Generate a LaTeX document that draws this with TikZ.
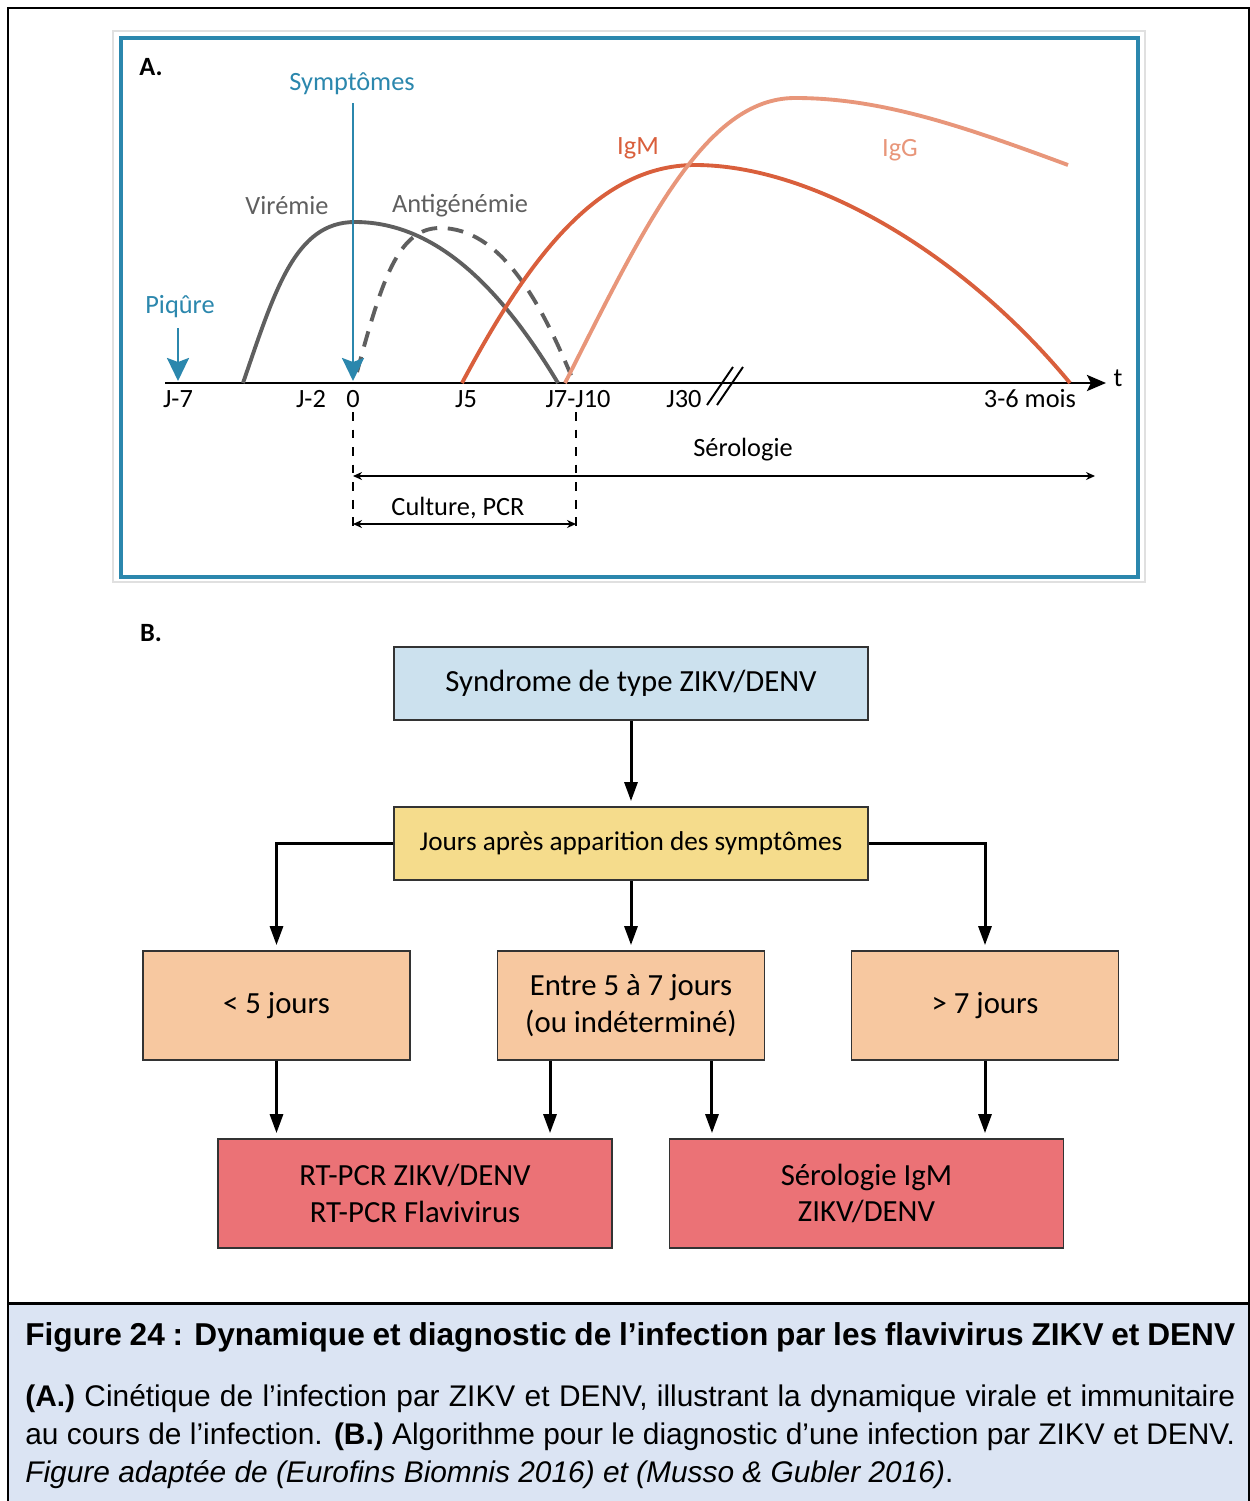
\documentclass[tikz,border=0pt]{standalone}
\usepackage{fontspec}
\setmainfont{Carlito}
\newfontfamily\legende{Liberation Sans}
\usetikzlibrary{arrows.meta}
\definecolor{bleu}{RGB}{43,135,173}
\definecolor{gris}{RGB}{95,95,95}
\definecolor{igm}{RGB}{217,95,60}
\definecolor{igg}{RGB}{232,150,122}
\definecolor{fondbleu}{RGB}{204,225,238}
\definecolor{fondjaune}{RGB}{245,220,140}
\definecolor{fondpeche}{RGB}{247,200,160}
\definecolor{fondrouge}{RGB}{235,114,118}
\definecolor{fondlegende}{RGB}{219,228,243}
\begin{document}
\begin{tikzpicture}[x=0.02cm,y=-0.02cm,
    etiq/.style={font=\fontsize{15}{17}\selectfont},
    boite/.style={draw=black!80, line width=1pt, align=center,
        font=\fontsize{17.5}{21}\selectfont},
    fleche/.style={line width=1.7pt, shorten >=0.1cm,
        -{Triangle[length=0.38cm,width=0.26cm]}}]
    \useasboundingbox (0,0) rectangle (1250,1501);

    % Cadre general et legende
    \fill[fondlegende] (8,1303) rectangle (1249,1501);
    \draw[line width=0.8pt] (8,1501) -- (8,8) -- (1249,8) -- (1249,1501);
    \draw[line width=1.7pt] (8,1303) -- (1249,1303);

    % Panneau A : cadre
    \draw[black!12, line width=1.2pt] (113,31) rectangle (1145,582);
    \draw[bleu, line width=2.3pt] (121,38) rectangle (1138,577);
    \node[font=\bfseries\fontsize{15}{17}\selectfont] (lettreA) at (151,67) {A.};

    % Axe du temps
    \draw[line width=1.6pt, -{Stealth[length=0.38cm,width=0.32cm,inset=0.08cm]}] (165,383) -- (1106,383);
    \node[etiq] (t) at (1118,378) {t};
    \foreach \x/\j in {178/J-7, 311/J-2, 353/0, 466/J5, 578/J7-J10, 684/J30, 1030/3-6 mois}
        \node[etiq] (j\x) at (\x,399) {\j};
    \draw[line width=1.1pt] (707,405) -- (733,367);
    \draw[line width=1.1pt] (717,405) -- (743,367);

    % Courbes
    \draw[gris, line width=2.2pt] (243,383) .. controls (275,290) and (295,222) .. (355,222)
        .. controls (440,222) and (505,295) .. (558,383);
    \draw[gris, line width=2.2pt, dash pattern=on 9pt off 6pt] (357,372) .. controls (382,280) and (398,228) .. (440,228)
        .. controls (500,228) and (540,300) .. (573,380);
    \draw[igm, line width=2.2pt] (462,383) .. controls (525,265) and (595,165) .. (695,165)
        .. controls (810,165) and (960,250) .. (1070,383);
    \draw[igg, line width=2.2pt] (565,383) .. controls (645,225) and (705,98) .. (795,98)
        .. controls (880,98) and (960,125) .. (1068,165);
    \node[etiq, gris] (viremie) at (287,206) {Virémie};
    \node[etiq, gris] (antigen) at (460,206) {Antigénémie};
    \node[etiq, igm] (lab-igm) at (638,148) {IgM};
    \node[etiq, igg] (lab-igg) at (900,150) {IgG};

    % Piqure et symptomes
    \node[etiq, bleu] (piqure) at (180,307) {Piqûre};
    \draw[bleu, line width=1.5pt, -{Stealth[length=0.46cm,width=0.44cm,inset=0.08cm]}] (178,328) -- (178,381);
    \node[etiq, bleu] (symptomes) at (352,84) {Symptômes};
    \draw[bleu, line width=1.5pt, -{Stealth[length=0.46cm,width=0.44cm,inset=0.08cm]}] (353,103) -- (353,381);

    % Fenetres de diagnostic
    \draw[line width=0.9pt, dash pattern=on 5pt off 5pt] (353,412) -- (353,528);
    \draw[line width=0.9pt, dash pattern=on 5pt off 5pt] (576,412) -- (576,528);
    \draw[line width=1.1pt, {Stealth[length=0.18cm,width=0.16cm]}-{Stealth[length=0.18cm,width=0.16cm]}] (353,476) -- (1095,476);
    \draw[line width=1.1pt, {Stealth[length=0.18cm,width=0.16cm]}-{Stealth[length=0.18cm,width=0.16cm]}] (353,524) -- (576,524);
    \node[etiq] (serologie) at (743,450) {Sérologie};
    \node[etiq] (culture) at (458,508) {Culture, PCR};

    % Panneau B : algorithme
    \node[font=\bfseries\fontsize{15}{17}\selectfont] (lettreB) at (151,633) {B.};
    \node[boite, fill=fondbleu, minimum width=9.48cm, minimum height=1.46cm] (syndrome) at (631,683.5) {Syndrome de type ZIKV/DENV};
    \node[boite, fill=fondjaune, minimum width=9.48cm, minimum height=1.46cm,
        font=\fontsize{15.5}{19}\selectfont] (jours) at (631,843.5) {Jours après apparition des symptômes};
    \node[boite, fill=fondpeche, minimum width=5.34cm, minimum height=2.18cm] (inf5) at (276.5,1005.5) {< 5 jours};
    \node[boite, fill=fondpeche, minimum width=5.34cm, minimum height=2.18cm] (entre) at (631,1005.5) {Entre 5 à 7 jours\\(ou indéterminé)};
    \node[boite, fill=fondpeche, minimum width=5.34cm, minimum height=2.18cm] (sup7) at (985,1005.5) {> 7 jours};
    \node[boite, fill=fondrouge, minimum width=7.88cm, minimum height=2.18cm] (rtpcr) at (415,1193.5) {RT-PCR ZIKV/DENV\\RT-PCR Flavivirus};
    \node[boite, fill=fondrouge, minimum width=7.88cm, minimum height=2.18cm] (serolo) at (866.5,1193.5) {Sérologie IgM\\ZIKV/DENV};

    \draw[fleche] (syndrome) -- (jours);
    \draw[fleche] (jours.west) -| (inf5.north);
    \draw[fleche] (jours) -- (entre);
    \draw[fleche] (jours.east) -| (sup7.north);
    \draw[fleche] (inf5.south) -- (inf5.south |- rtpcr.north);
    \draw[fleche] ([xshift=-1.62cm]entre.south) -- ([xshift=-1.62cm]entre.south |- rtpcr.north);
    \draw[fleche] ([xshift=1.62cm]entre.south) -- ([xshift=1.62cm]entre.south |- serolo.north);
    \draw[fleche] (sup7.south) -- (sup7.south |- serolo.north);

    % Texte de la legende
    \node[anchor=west, inner sep=0pt, font=\legende\bfseries\fontsize{18}{21}\selectfont] (titre) at (25,1337)
        {\makebox[24.2cm][s]{Figure 24 : Dynamique et diagnostic de l’infection par les flavivirus ZIKV et DENV}};
    \node[anchor=west, inner sep=0pt, font=\legende\fontsize{17}{20}\selectfont] (ligne1) at (25,1399)
        {\makebox[24.2cm][s]{\textbf{(A.)} Cinétique de l’infection par ZIKV et DENV, illustrant la dynamique virale et immunitaire}};
    \node[anchor=west, inner sep=0pt, font=\legende\fontsize{17}{20}\selectfont] (ligne2) at (25,1437)
        {\makebox[24.2cm][s]{au cours de l’infection. \textbf{(B.)} Algorithme pour le diagnostic d’une infection par ZIKV et DENV.}};
    \node[anchor=west, inner sep=0pt, font=\legende\fontsize{17}{20}\selectfont] (ligne3) at (25,1475)
        {\textit{Figure adaptée de (Eurofins Biomnis 2016) et (Musso \& Gubler 2016)}.};
\end{tikzpicture}
\end{document}
